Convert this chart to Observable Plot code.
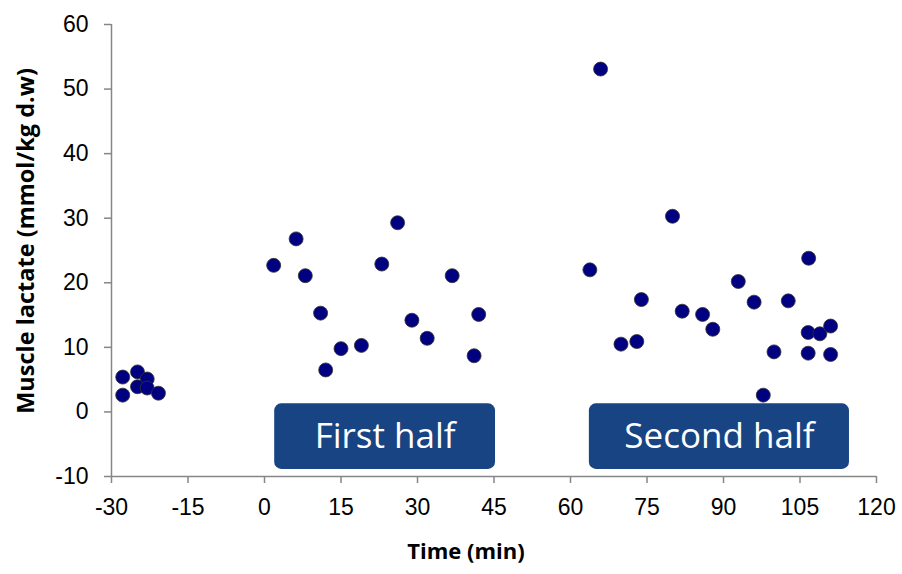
<!DOCTYPE html>
<html>
<head>
<meta charset="utf-8">
<script src="https://cdn.jsdelivr.net/npm/d3@7"></script>
<script src="https://cdn.jsdelivr.net/npm/@observablehq/plot@0.6"></script>
<style>
  html, body { margin: 0; padding: 0; background: #fff; }
  #chart svg { display: block; }
</style>
</head>
<body>
<div id="chart"></div>
<script>
// Pre-match samples
const preTime    = [-27.8, -27.8, -24.9, -23.0, -24.9, -23.0, -20.8];
const preLactate = [5.4, 2.6, 6.2, 5.1, 3.9, 3.7, 2.9];
// First half samples
const firstTime    = [1.8, 6.2, 8.0, 11.0, 12.0, 15.0, 19.0, 23.0, 26.1, 28.9, 31.9, 36.8, 41.1, 42.0];
const firstLactate = [22.7, 26.8, 21.1, 15.3, 6.5, 9.8, 10.3, 22.9, 29.3, 14.2, 11.4, 21.1, 8.7, 15.1];
// Second half samples
const secondTime    = [63.8, 65.9, 69.9, 73.0, 73.9, 80.0, 81.9, 85.9, 87.9, 92.9, 96.0, 97.8, 99.9, 102.7, 106.6, 106.6, 106.7, 108.9, 111.0, 111.0];
const secondLactate = [22.0, 53.1, 10.5, 10.9, 17.4, 30.3, 15.6, 15.1, 12.8, 20.2, 17.0, 2.6, 9.3, 17.2, 12.3, 9.1, 23.8, 12.1, 13.3, 8.9];

// Axis ticks
const xTicks = [-30, -15, 0, 15, 30, 45, 60, 75, 90, 105, 120];
const yTicks = [-10, 0, 10, 20, 30, 40, 50, 60];

// Phase annotation boxes (minutes, lactate units)
const phaseLabels = ["First half", "Second half"];
const phaseStart  = [2.0, 63.7];
const phaseEnd    = [45.3, 114.7];
const phaseTop    = 1.25;
const phaseBottom = -8.9;
const phaseTextY  = -3.8;

const points = [
  ...preTime.map((t, i) => ({time: t, lactate: preLactate[i]})),
  ...firstTime.map((t, i) => ({time: t, lactate: firstLactate[i]})),
  ...secondTime.map((t, i) => ({time: t, lactate: secondLactate[i]}))
];
const phases = phaseLabels.map((label, i) => ({
  label, x1: phaseStart[i], x2: phaseEnd[i], y1: phaseBottom, y2: phaseTop,
  xm: (phaseStart[i] + phaseEnd[i]) / 2, ym: phaseTextY
}));

const axisColor = "#868686";
const titleFont = "'Open Sans', 'Noto Sans', sans-serif";

const chart = Plot.plot({
  width: 902,
  height: 574,
  marginLeft: 111,
  marginRight: 26,
  marginTop: 24,
  marginBottom: 98,
  style: {fontFamily: "'Liberation Sans', Arial, sans-serif", fontSize: "23px", color: "#000", background: "#fff"},
  x: {domain: [-30, 120]},
  y: {domain: [-10, 60]},
  marks: [
    Plot.rect(phases, {x1: "x1", x2: "x2", y1: "y1", y2: "y2", fill: "#184483", rx: 7}),
    Plot.text(phases, {x: "xm", y: "ym", text: "label", fill: "#fff", fontSize: 35,
      fontFamily: titleFont}),
    Plot.axisX({ticks: xTicks, tickSize: 7, tickPadding: 15, stroke: axisColor, strokeWidth: 1.5,
      fill: "#000", fontSize: 23, label: null, tickFormat: d => String(d)}),
    Plot.axisY({ticks: yTicks, tickSize: 7, tickPadding: 16, stroke: axisColor, strokeWidth: 1.5,
      fill: "#000", fontSize: 23, label: null, tickFormat: d => String(d)}),
    Plot.ruleY([-10], {stroke: axisColor, strokeWidth: 1.5}),
    Plot.ruleX([-30], {stroke: axisColor, strokeWidth: 1.5}),
    Plot.dot(points, {x: "time", y: "lactate", r: 7, fill: "#000080", stroke: "#333", strokeWidth: 0.8}),
    Plot.text(["Time (min)"], {frameAnchor: "bottom", dx: -28, dy: 82, fontWeight: "bold", fontSize: 22,
      fontFamily: titleFont, fill: "#000"}),
    Plot.text(["Muscle lactate (mmol/kg d.w)"], {frameAnchor: "left", textAnchor: "middle", rotate: -90,
      dx: -85, dy: -9.5, fontWeight: "bold", fontSize: 23.5, fontFamily: titleFont, fill: "#000"})
  ]
});
document.getElementById("chart").appendChild(chart);
</script>
</body>
</html>
